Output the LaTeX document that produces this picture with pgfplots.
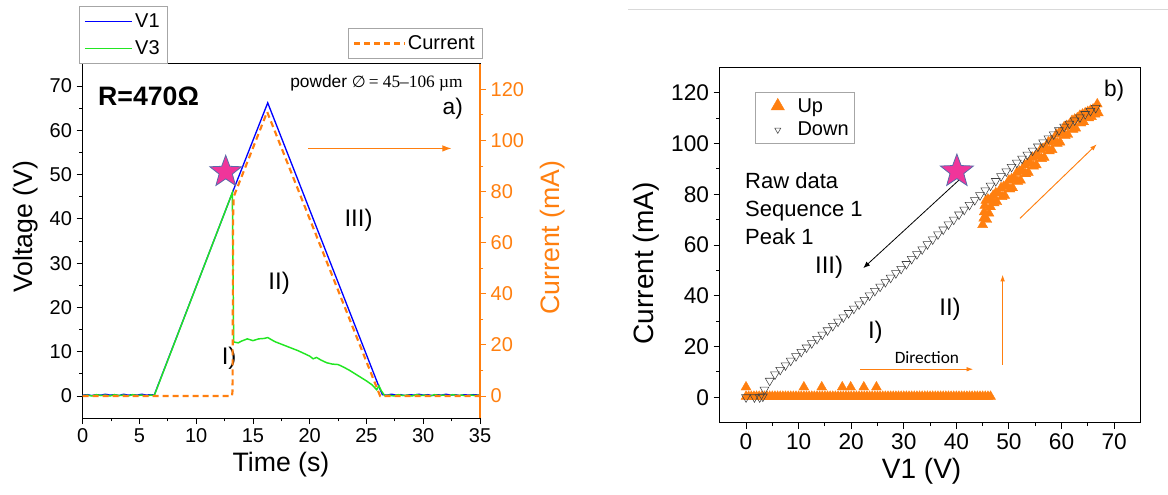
\documentclass[border=0pt]{standalone}
\usepackage{pgfplots}
\pgfplotsset{compat=1.18}
\usepackage{fontspec}
\setmainfont{Liberation Sans}
\newfontfamily\serifsym{Liberation Serif}
\newfontfamily\dejasans{DejaVu Sans}
\newfontfamily\carlito{Carlito}
\usetikzlibrary{shapes.geometric,arrows.meta}
\definecolor{vblue}{HTML}{0000FF}
\definecolor{vgreen}{HTML}{22E622}
\definecolor{corange}{HTML}{FF7F0F}
\definecolor{starpink}{HTML}{F0359A}
\definecolor{staredge}{HTML}{5A6AAA}
\pgfplotsset{
  myaxis/.style={
    scale only axis,
    tick align=outside,
    /pgf/number format/assume math mode=true,
    major tick length=4.5pt,
    minor tick length=2.5pt,
    every tick/.style={black, line width=0.7pt},
    axis line style={line width=0.8pt},
  },
  uplegend/.style={legend image code/.code={\path[draw=none] (0cm,0cm) -- (0.95cm,0cm); \draw[##1, only marks, mark size=5.8pt] plot coordinates {(0.5cm,0cm)};}},
  downlegend/.style={legend image code/.code={\path[draw=none] (0cm,0cm) -- (0.95cm,0cm); \draw[##1, only marks, mark size=2.6pt] plot coordinates {(0.5cm,0cm)};}},
}
\begin{document}
\begin{tikzpicture}
\useasboundingbox (0pt,0pt) rectangle (876pt,-371.25pt);
\draw[gray!30, line width=0.75pt] (471pt,-7pt) -- (876pt,-7pt);
% ---------------- left panel, voltage axis
\begin{axis}[myaxis,
  at={(62.025pt,-313.6pt)}, anchor=south west,
  width=297.98pt, height=265.7pt,
  xmin=0, xmax=35, ymin=-5, ymax=75,
  xtick={0,5,...,35}, ytick={0,10,...,70},
  minor x tick num=1, minor y tick num=1,
  xtick pos=bottom, ytick pos=left,
  tick label style={font=\fontsize{15}{18}\selectfont},
  xlabel={Time (s)}, ylabel={Voltage (V)},
  label style={font=\fontsize{20}{24}\selectfont},
  xlabel style={at={(axis description cs:0.499,-0.132)}, anchor=center},
  ylabel style={at={(axis description cs:-0.143,0.54)}, anchor=center},
  legend style={at={(axis description cs:-0.0093,1.164)}, anchor=north west,
    draw=gray!70, line width=0.6pt, font=\fontsize{15}{18}\selectfont, inner sep=3.5pt, row sep=4.5pt},
  legend cell align=left,
  legend image code/.code={\draw[#1] (0cm,0cm) -- (1.24cm,0cm);},
]
\addplot[vblue, line width=1pt] coordinates {
(0,0.2) (0.4,0.3) (0.8,0.1) (1.2,0.3) (1.6,0.2) (2,0.4) (2.4,0.2) (2.8,0.3) (3.2,0.1)
(3.6,0.4) (4,0.2) (4.4,0.3) (4.8,0.2) (5.2,0.4) (5.6,0.2) (6,0.3) (6.3,0.2)
(13.2,46) (16.3,66.2) (26.1,2.1) (26.4,0.3) (26.8,0.2) (27.2,0.4) (27.6,0.2) (28,0.3)
(28.4,0.1) (28.8,0.3) (29.2,0.2) (29.6,0.4) (30,0.2) (30.4,0.3) (30.8,0.1) (31.2,0.3)
(31.6,0.2) (32,0.4) (32.4,0.2) (32.8,0.3) (33.2,0.1) (33.6,0.3) (34,0.2) (34.4,0.3) (35,0.2)
};
\addplot[vgreen, line width=1.1pt] coordinates {
(0,0.1) (0.4,0.2) (0.8,0) (1.2,0.3) (1.6,0.1) (2,0.2) (2.4,0) (2.8,0.3) (3.2,0.1)
(3.6,0.2) (4,0) (4.4,0.3) (4.8,0.1) (5.2,0.2) (5.6,0) (6,0.2) (6.3,0.1)
(13.18,45.9) (13.3,12.2) (13.7,12.0) (14,12.4) (14.5,12.9) (15,12.5) (15.5,12.9)
(16,13.0) (16.3,13.2) (16.7,12.6) (17,12.2) (17.5,11.7) (18,11.2) (18.5,10.7) (19,10.2)
(19.5,9.6) (20,9.0) (20.3,8.4) (20.6,8.7) (21,8.1) (21.5,7.5) (22,7.2) (22.5,7.1)
(23,6.5) (23.5,5.8) (24,5.0) (24.5,4.2) (25,3.4) (25.5,2.5) (25.9,1.4) (26.1,2.3)
(26.3,1.2) (26.6,0.1) (27,0.2) (27.4,0) (27.8,0.3) (28.2,0.1) (28.6,0.2) (29,0)
(29.4,0.3) (29.8,0.1) (30.2,0.2) (30.6,0) (31,0.3) (31.4,0.1) (31.8,0.2) (32.2,0)
(32.6,0.3) (33,0.1) (33.4,0.2) (33.8,0) (34.2,0.2) (34.6,0.1) (35,0.2)
};
\legend{V1,V3}
\node[star, star points=5, star point ratio=2.4, minimum size=25pt, inner sep=0pt,
  fill=starpink, draw=staredge, line width=0.6pt] at (axis cs:12.6,50.6) {};
\node[anchor=west, font=\bfseries\fontsize{20}{24}\selectfont] at (axis cs:0.95,67.6) {R=470Ω};
\node[anchor=east, font=\fontsize{13}{15}\selectfont, inner sep=0pt] at (axis cs:33.5,70.7)
  {powder {\dejasans\fontsize{12}{14}\selectfont ∅}\,{\serifsym = 45–106 µm}};
\node[font=\fontsize{17}{20}\selectfont] at (axis cs:32.6,65) {a)};
\node[font=\fontsize{18}{21}\selectfont] at (axis cs:24.3,39.7) {III)};
\node[font=\fontsize{18}{21}\selectfont] at (axis cs:17.3,25.4) {II)};
\node[font=\fontsize{18}{21}\selectfont] at (axis cs:12.9,8.5) {I)};
\draw[corange, line width=1.0pt, -{Latex[length=7pt,width=5pt]}] (axis cs:19.87,55.9) -- (axis cs:32.5,55.9);
\end{axis}
% ---------------- left panel, current axis
\begin{axis}[myaxis,
  at={(62.025pt,-313.6pt)}, anchor=south west,
  width=297.98pt, height=265.7pt,
  xmin=0, xmax=35, ymin=-8.65, ymax=130,
  axis x line=none, axis y line*=right,
  ytick={0,20,...,120}, minor y tick num=1,
  every tick/.append style={corange},
  y axis line style={corange, line width=0.8pt},
  yticklabel style={corange, font=\fontsize{15}{18}\selectfont},
  ylabel={Current (mA)},
  ylabel style={corange, font=\fontsize{20}{24}\selectfont, at={(axis description cs:1.182,0.51)}, anchor=center, rotate=0},
  legend style={at={(axis description cs:1.0058,1.102)}, anchor=north east,
    draw=gray!70, line width=0.6pt, font=\fontsize{15}{18}\selectfont, inner sep=3.5pt},
  legend image code/.code={\draw[#1] (0cm,0cm) -- (1.32cm,0cm);},
]
\addplot[corange, line width=1.6pt, dash pattern=on 4.5pt off 3pt] coordinates {
(0,0) (13.15,0) (13.2,2) (13.25,70) (13.3,78) (16.25,111.2) (26.2,0) (35,0)
};
\legend{Current}
\end{axis}
% ---------------- right panel
\begin{axis}[myaxis,
  at={(539.8pt,-317pt)}, anchor=south west,
  width=315.5pt, height=266.5pt,
  xmin=-5, xmax=75, ymin=-10, ymax=130,
  xtick={0,10,...,70}, ytick={0,20,...,120},
  minor x tick num=1, minor y tick num=1,
  xtick pos=bottom, ytick pos=left,
  tick label style={font=\fontsize{17}{20}\selectfont},
  xlabel={V1 (V)}, ylabel={Current (mA)},
  label style={font=\fontsize{21}{25}\selectfont},
  xlabel style={at={(axis description cs:0.480,-0.138)}, anchor=center},
  ylabel style={at={(axis description cs:-0.175,0.448)}, anchor=center},
  legend style={at={(axis description cs:0.084,0.931)}, anchor=north west,
    draw=gray!70, line width=0.6pt, font=\fontsize{15}{18}\selectfont, inner sep=2.5pt, row sep=2pt},
  legend cell align=left,
]
\addplot[only marks, mark=triangle*, mark size=4.3pt, mark options={fill=corange, draw=corange, line width=0.3pt}, uplegend] coordinates {
(0,0.3) (0.5,0.3) (1,0.3) (1.5,0.3) (2,0.3) (2.5,0.3) (3,0.3) (3.5,0.3) (4,0.3) (4.5,0.3)
(5,0.3) (5.5,0.3) (6,0.3) (6.5,0.3) (7,0.3) (7.5,0.3) (8,0.3) (8.5,0.3) (9,0.3) (9.5,0.3)
(10,0.3) (10.5,0.3) (11,0.3) (11.5,0.3) (12,0.3) (12.5,0.3) (13,0.3) (13.5,0.3) (14,0.3) (14.5,0.3)
(15,0.3) (15.5,0.3) (16,0.3) (16.5,0.3) (17,0.3) (17.5,0.3) (18,0.3) (18.5,0.3) (19,0.3) (19.5,0.3)
(20,0.3) (20.5,0.3) (21,0.3) (21.5,0.3) (22,0.3) (22.5,0.3) (23,0.3) (23.5,0.3) (24,0.3) (24.5,0.3)
(25,0.3) (25.5,0.3) (26,0.3) (26.5,0.3) (27,0.3) (27.5,0.3) (28,0.3) (28.5,0.3) (29,0.3) (29.5,0.3)
(30,0.3) (30.5,0.3) (31,0.3) (31.5,0.3) (32,0.3) (32.5,0.3) (33,0.3) (33.5,0.3) (34,0.3) (34.5,0.3)
(35,0.3) (35.5,0.3) (36,0.3) (36.5,0.3) (37,0.3) (37.5,0.3) (38,0.3) (38.5,0.3) (39,0.3) (39.5,0.3)
(40,0.3) (40.5,0.3) (41,0.3) (41.5,0.3) (42,0.3) (42.5,0.3) (43,0.3) (43.5,0.3) (44,0.3) (44.5,0.3)
(45,0.3) (45.5,0.3) (46,0.3) (46.5,0.3)
(0,4) (11,4) (14.4,4) (18.3,4) (19.9,4) (22.4,4) (24.8,4)
(45.0,68) (45.2,70.5) (45.3,73) (45.4,75.5) (45.6,77.5) (45.8,70) (46.2,72.5) (46.5,75)
(46,78) (46.5,78) (47,79.5) (47.5,80.5) (48,80.5) (48.5,82.5) (49,83) (49.5,83.5)
(50,85.5) (50.5,86) (51,86.5) (51.5,88.5) (52,89) (52.5,89.5) (53,91.5) (53.5,92)
(54,92.5) (54.5,94.5) (55,95) (55.5,95.5) (56,97.5) (56.5,98) (57,98.5) (57.5,100.5)
(58,101) (58.5,101.5) (59,103.5) (59.5,104) (60,104.5) (60.5,106.5) (61,107) (61.5,107.5)
(62,109) (62.5,109.5) (63,110) (63.5,111) (64,111.5) (64.5,112) (65,112.5) (65.5,113)
(66,113.5) (66.5,114) (67,112) (66.8,115.5)
(47.2,76.5) (47.7,77) (48.7,79) (49.2,79.5) (50.2,82) (50.7,82.5) (51.7,85) (52.2,85.5)
(53.2,88) (53.7,88.5) (54.7,91) (55.2,91.5) (56.2,94) (56.7,94.5) (57.7,97) (58.2,97.5)
(59.2,100) (59.7,100.5) (60.7,103) (61.2,103.5) (62.2,105.5) (62.7,106) (63.7,108) (64.2,108.5)
(65.2,110) (65.7,110.5) (66.4,111.5)
};
\addlegendentry{Up}
\addplot[only marks, mark=triangle, mark size=3.8pt, mark options={rotate=180, fill=white, draw=black!75, line width=0.4pt}, downlegend] coordinates {
(0,0) (1.6,0) (2.6,0) (3.2,0.3)
(3.5,3) (4.5,6.5) (5.5,9) (6.5,10.8) (7.5,12.6) (8.5,14.4) (9.5,16.2) (10.5,17.9)
(11.5,19.6) (12.5,21.3) (13.5,23) (14.5,24.7) (15.5,26.4) (16.5,28.1) (17.5,29.8) (18.5,31.5)
(19.5,33.2) (20.5,34.9) (21.5,36.6) (22.5,38.4) (23.5,40.1) (24.5,41.9) (25.5,43.6) (26.5,45.4)
(27.5,47.1) (28.5,48.9) (29.5,50.6) (30.5,52.5) (31.5,54.5) (32.5,56.4) (33.5,58.3) (34.5,60.3)
(35.5,62.2) (36.5,64.2) (37.5,66.1) (38.5,68.1) (39.5,70) (40.5,72) (41.5,73.9) (42.5,75.8)
(43.5,77.7) (44.5,79.6) (45.5,81.5) (46.5,83.4) (47.5,85.2) (48.5,87.1) (49.5,89) (50.5,90.8)
(51.5,92.4) (52.5,94) (53.5,95.6) (54.5,97.2) (55.5,98.8) (56.5,100.4) (57.5,102) (58.5,103.6)
(59.5,105.2) (60.5,106.6) (61.5,107.8) (62.5,109.1) (63.5,110.3) (64.5,111.6) (65.5,112.8) (66.5,114)
};
\addlegendentry{Down}
\draw[black, line width=0.6pt, -{Latex[length=5pt,width=4pt]}] (axis cs:41.5,87.5) -- (axis cs:22.3,50.9);
\node[star, star points=5, star point ratio=2.4, minimum size=26pt, inner sep=0pt,
  fill=starpink, draw=staredge, line width=0.6pt] at (axis cs:40.1,89) {};
\node[anchor=base west, inner sep=0pt, font=\fontsize{16.5}{20}\selectfont] at (axis cs:-0.2,82.3) {Raw data};
\node[anchor=base west, inner sep=0pt, font=\fontsize{16.5}{20}\selectfont] at (axis cs:-0.2,71.2) {Sequence 1};
\node[anchor=base west, inner sep=0pt, font=\fontsize{16.5}{20}\selectfont] at (axis cs:-0.2,60) {Peak 1};
\node[font=\fontsize{17}{20}\selectfont] at (axis cs:70,121) {b)};
\node[font=\fontsize{18}{21}\selectfont] at (axis cs:15.8,51.3) {III)};
\node[font=\fontsize{18}{21}\selectfont] at (axis cs:38.8,34.6) {II)};
\node[font=\fontsize{18}{21}\selectfont] at (axis cs:24.6,25.5) {I)};
\node[font=\carlito\fontsize{13}{15}\selectfont] at (axis cs:34.4,15.5) {Direction};
\draw[corange, line width=0.7pt, -{Latex[length=5pt,width=3.5pt]}] (axis cs:21.7,11.05) -- (axis cs:43.2,11.05);
\draw[corange, line width=0.7pt, -{Latex[length=5pt,width=3.5pt]}] (axis cs:48.8,12.8) -- (axis cs:48.8,48.3);
\draw[corange, line width=0.7pt, -{Latex[length=5pt,width=3.5pt]}] (axis cs:52.1,70.5) -- (axis cs:66.7,99.7);
\end{axis}
\end{tikzpicture}
\end{document}
